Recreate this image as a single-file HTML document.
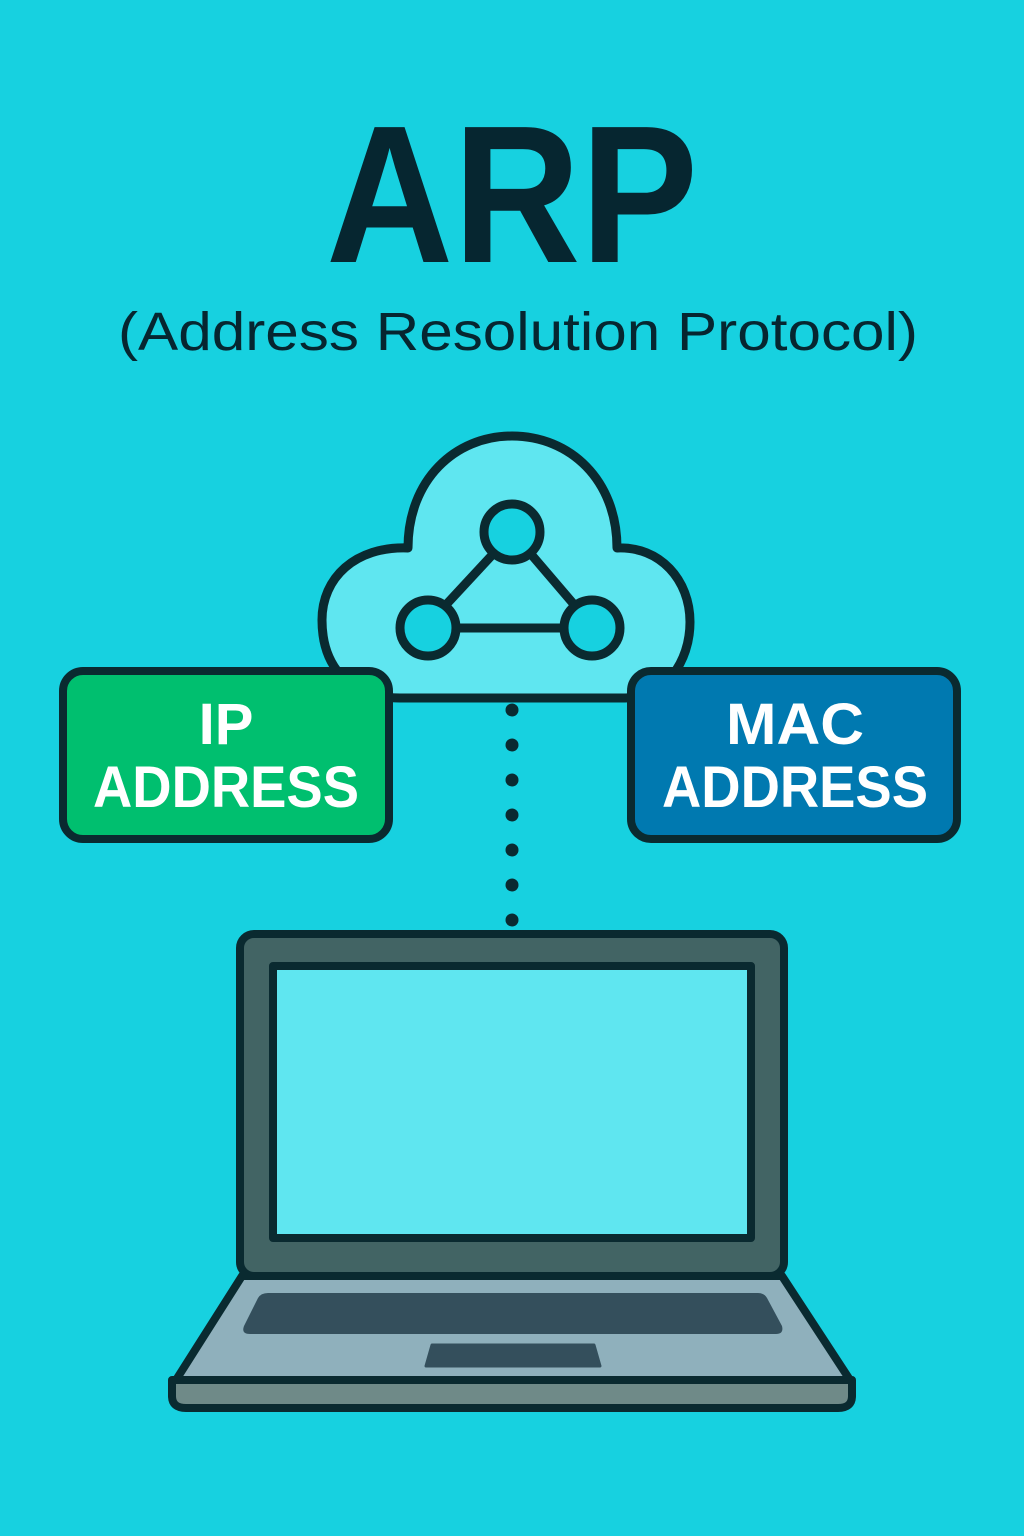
<!DOCTYPE html>
<html><head><style>html,body{margin:0;padding:0;background:#17d1e0;}svg{display:block}</style></head>
<body>
<svg width="1024" height="1536" viewBox="0 0 1024 1536" xmlns="http://www.w3.org/2000/svg">
<rect width="1024" height="1536" fill="#17d1e0"/>
<text x="512" y="262" text-anchor="middle" font-family="Liberation Sans, sans-serif" font-weight="bold" font-size="196" fill="#062630" textLength="372" lengthAdjust="spacingAndGlyphs">ARP</text>
<text x="518" y="350" text-anchor="middle" font-family="Liberation Sans, sans-serif" font-size="54" fill="#062630" textLength="800" lengthAdjust="spacingAndGlyphs">(Address Resolution Protocol)</text>
<g stroke="#0a2a30" stroke-width="9" stroke-linejoin="round">
<path d="M 400 698 C 345 698 322 662 322 620 C 322 578 355 546 408 548 C 408 480 455 436 512 436 C 570 436 617 480 617 548 C 660 546 690 580 690 622 C 690 662 665 698 625 698 Z" fill="#5fe6f0"/>
<line x1="494" y1="553" x2="443" y2="608"/>
<line x1="530" y1="553" x2="577" y2="608"/>
<line x1="456" y1="628" x2="564" y2="628"/>
<circle cx="512" cy="532" r="28" fill="#17d1e0"/>
<circle cx="428" cy="628" r="28" fill="#17d1e0"/>
<circle cx="592" cy="628" r="28" fill="#17d1e0"/>
<rect x="63" y="671" width="326" height="168" rx="20" fill="#00bf6f" stroke-width="8"/>
<rect x="631" y="671" width="326" height="168" rx="20" fill="#0079b0" stroke-width="8"/>
</g>
<g font-family="Liberation Sans, sans-serif" font-weight="bold" font-size="58" fill="#fff" text-anchor="middle">
<text x="226" y="744">IP</text>
<text x="226" y="807" textLength="266" lengthAdjust="spacingAndGlyphs">ADDRESS</text>
<text x="795" y="744" textLength="138" lengthAdjust="spacingAndGlyphs">MAC</text>
<text x="795" y="807" textLength="266" lengthAdjust="spacingAndGlyphs">ADDRESS</text>
</g>
<g fill="#0a2a30">
<circle cx="512" cy="710" r="6.5"/><circle cx="512" cy="745" r="6.5"/><circle cx="512" cy="780" r="6.5"/><circle cx="512" cy="815" r="6.5"/><circle cx="512" cy="850" r="6.5"/><circle cx="512" cy="885" r="6.5"/><circle cx="512" cy="920" r="6.5"/>
</g>
<g stroke="#0a2a30" stroke-width="8" stroke-linejoin="round">
<rect x="240" y="934" width="544" height="342" rx="14" fill="#426464"/>
<rect x="273" y="966" width="478" height="272" fill="#5fe6f0"/>
<path d="M 176 1380 L 242 1276 L 782 1276 L 850 1380 Z" fill="#8fb0bc"/>
<path d="M 172 1380 L 852 1380 L 852 1396 Q 852 1408 838 1408 L 186 1408 Q 172 1408 172 1396 Z" fill="#6f8a88"/>
</g>
<path d="M 268 1293 L 758 1293 Q 764 1293 767 1298 L 782 1326 Q 784 1334 776 1334 L 250 1334 Q 241 1334 244 1326 L 258 1298 Q 261 1293 268 1293 Z" fill="#344f5c"/>
<path d="M 432 1345 L 594 1345 L 600 1366 L 426 1366 Z" fill="#344f5c" stroke="#344f5c" stroke-width="3" stroke-linejoin="round"/>
</svg>
</body></html>
